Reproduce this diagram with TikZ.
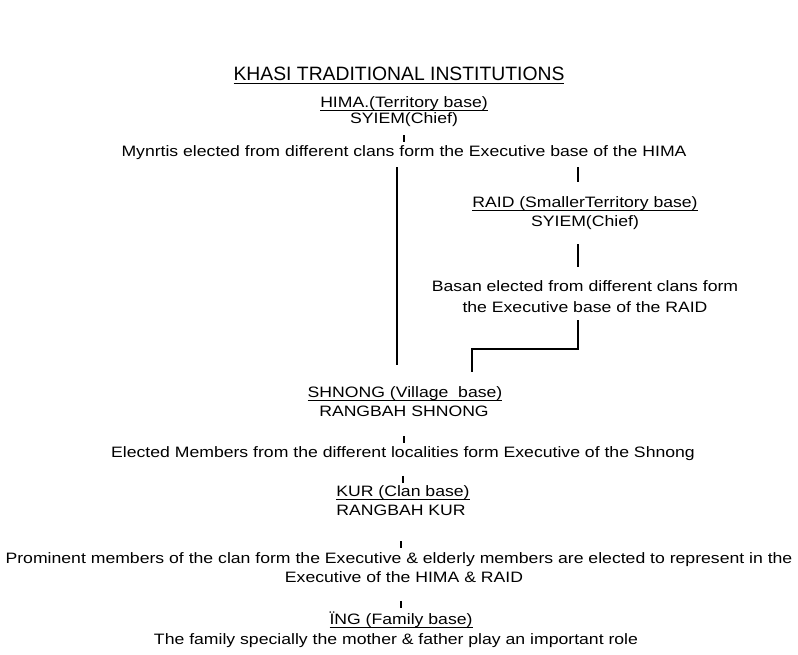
\documentclass[tikz,border=0pt]{standalone}
\usepackage{fontspec}
\setmainfont{Liberation Sans}[FakeStretch=1.17]
\newfontfamily\ttlfont{Liberation Sans}
\usetikzlibrary{positioning}

\newcommand\ulined[1]{\vtop{\hbox{\vphantom{x}\smash{#1}}\kern1.8pt\hrule height 0.9pt}}

\tikzset{
  txt/.style={font=\fontsize{11.3}{13}\selectfont, inner sep=0pt,
    text height=0.75em, text depth=0.22em},
  ttl/.style={font=\ttlfont\fontsize{14.5}{17}\selectfont, inner sep=0pt},
  bar/.style 2 args={line width=0.9pt, shorten <=#1, shorten >=#2},
  link/.style={line width=0.9pt}
}

\begin{document}
\begin{tikzpicture}[x=0.75pt,y=-0.75pt]
\useasboundingbox (0,0) rectangle (798,654);

\node[ttl] (title) at (399,77) {\ulined{KHASI TRADITIONAL INSTITUTIONS}};

\node[txt] (hima) at (404,104) {\ulined{HIMA.(Territory base)}};
\node[txt] (hsyiem) at (404,120) {SYIEM(Chief)};
\node[txt] (mynrtis) at (404,153) {Mynrtis elected from different clans form the Executive base of the HIMA};

\node[txt] (raid) at (585,204) {\ulined{RAID (SmallerTerritory base)}};
\node[txt] (rsyiem) at (585,223) {SYIEM(Chief)};
\node[txt] (basan) at (585,288) {Basan elected from different clans form};
\node[txt] (basanb) at (585,309) {the Executive base of the RAID};

\node[txt] (shnong) at (405,394) {\ulined{SHNONG (Village\ \ base)}};
\node[txt] (rshnong) at (404,413) {RANGBAH SHNONG};
\node[txt] (elected) at (403,454) {Elected Members from the different localities form Executive of the Shnong};

\node[txt] (kur) at (403,493) {\ulined{KUR (Clan base)}};
\node[txt] (rkur) at (401,512) {RANGBAH KUR};
\node[txt] (prominent) at (399,560) {Prominent members of the clan form the Executive \& elderly members are elected to represent in the};
\node[txt] (prominentb) at (404,579) {Executive of the HIMA \& RAID};

\node[txt] (ing) at (401,621) {\ulined{ÏNG (Family base)}};
\node[txt] (family) at (396,641) {The family specially the mother \& father play an important role};

% short bars
\draw[bar={6.2pt}{3.2pt}] (hsyiem) -- (hsyiem |- mynrtis.north);
\draw[bar={12.2pt}{3.2pt}] (rshnong) -- (rshnong |- elected.north);
\draw[bar={11.4pt}{2.4pt}] (elected.south -| kur) -- (kur.north);
\draw[bar={16.7pt}{3.9pt}] (rkur) -- (rkur |- prominent.north);
\draw[bar={11.4pt}{4.7pt}] (prominentb.south -| ing) -- (ing.north);

% HIMA down to SHNONG
\draw[link, shorten <=5.5pt, shorten >=16.6pt] ([xshift=-6pt]shnong.north |- mynrtis.south) -- ([xshift=-6pt]shnong.north);

% HIMA to RAID
\draw[bar={5.5pt}{11.4pt}] ([xshift=-5.25pt]raid.north |- mynrtis.south) -- ([xshift=-5.25pt]raid.north);
\draw[link, shorten <=10.7pt, shorten >=10.7pt] ([xshift=-5.25pt]rsyiem.south) -- ([xshift=-5.25pt]basan.north);

% RAID down to SHNONG
\coordinate (bend) at ([xshift=-5.25pt,yshift=-25pt]basanb.south);
\draw[link, shorten <=3.2pt, shorten >=11.4pt] ([xshift=-5.25pt]basanb.south) -- (bend) -| ([xshift=50.25pt]shnong.north);

\end{tikzpicture}
\end{document}
